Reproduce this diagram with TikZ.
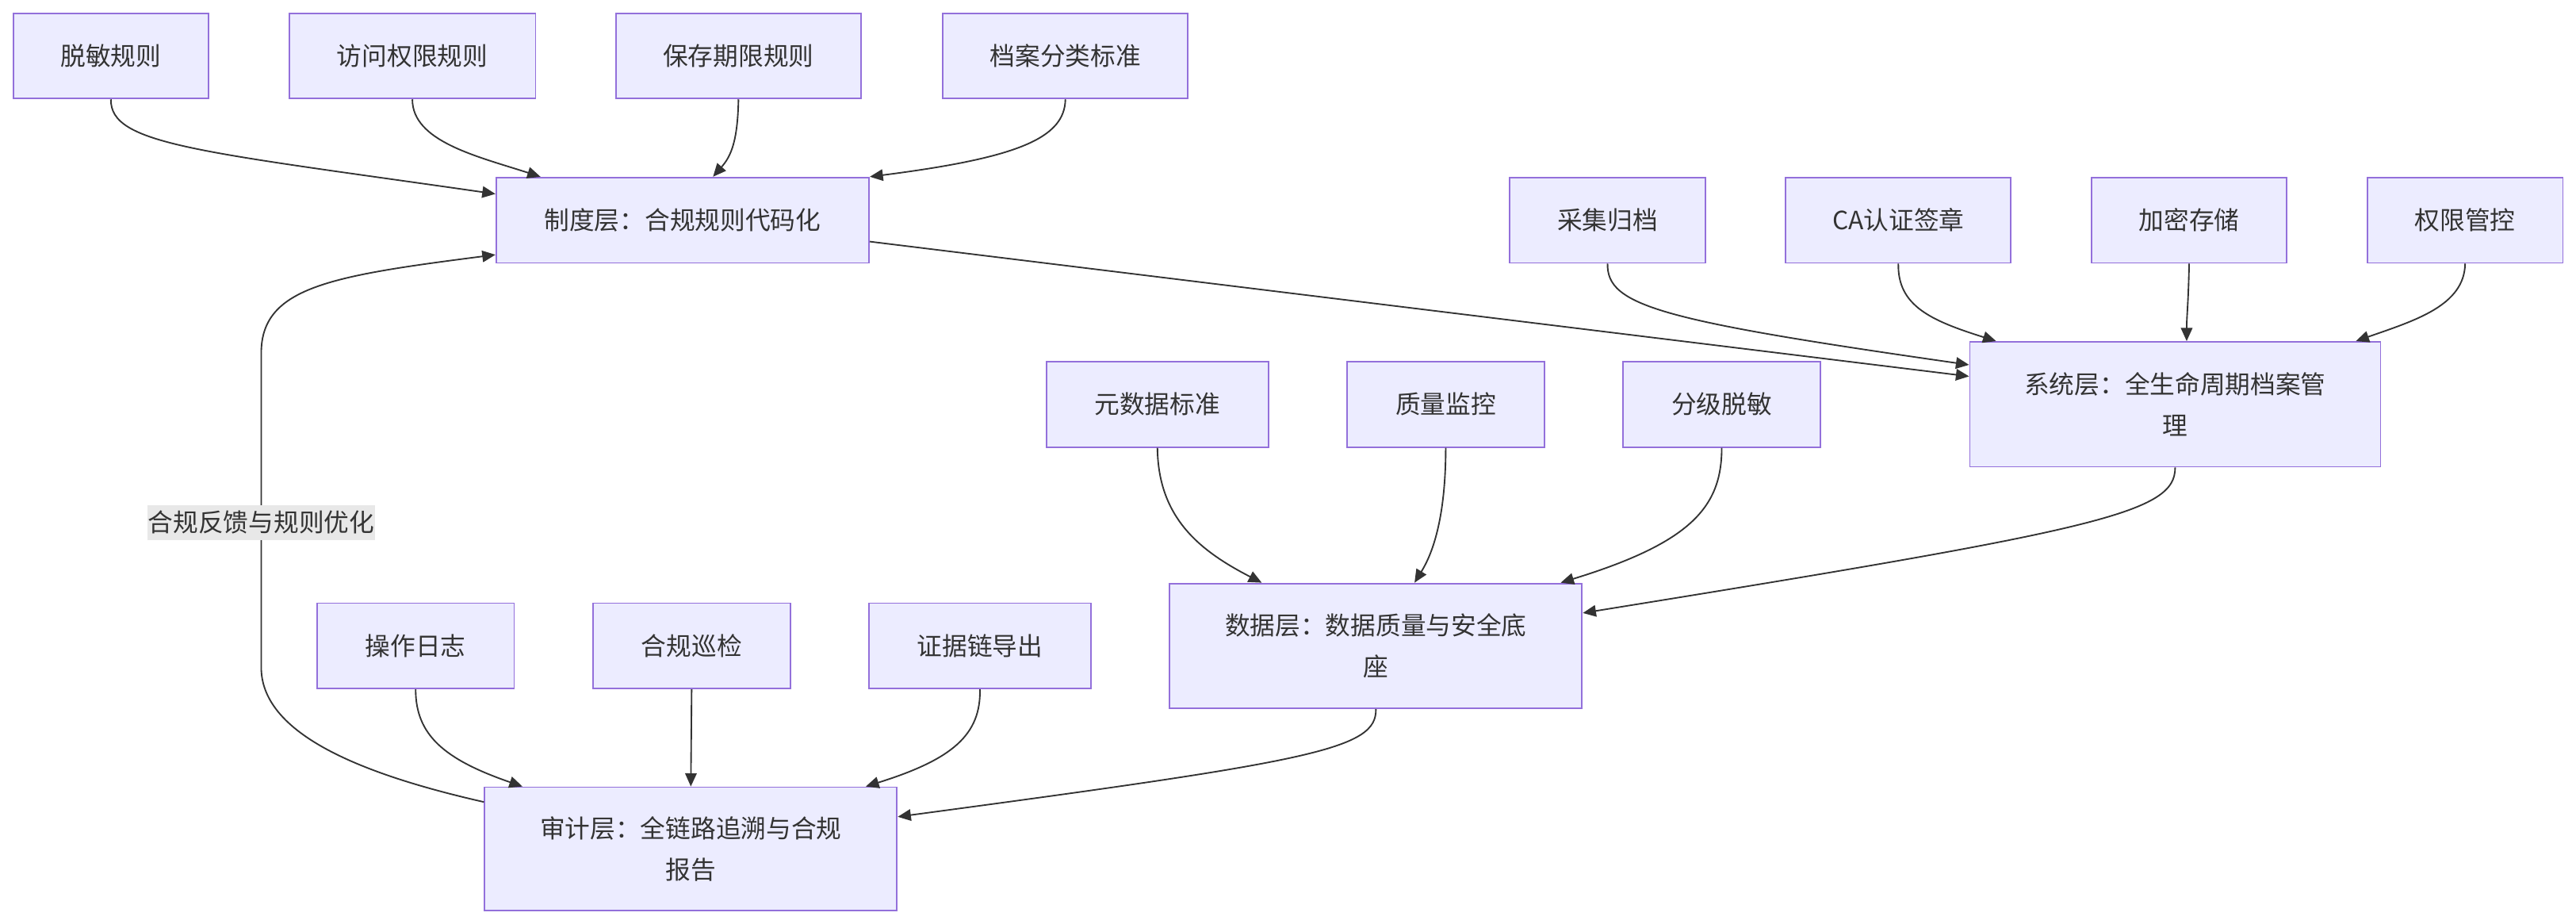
\documentclass[tikz,border=0pt]{standalone}
\usepackage{fontspec}
\setmainfont{Noto Sans CJK SC}
\usetikzlibrary{arrows.meta,calc}
\definecolor{nodefill}{HTML}{ECECFF}
\definecolor{nodedraw}{HTML}{9370DB}
\definecolor{txt}{HTML}{333333}
\definecolor{lblbg}{HTML}{E8E8E8}
\begin{document}
\begin{tikzpicture}[x=1pt,y=-1pt,
  box/.style={draw=nodedraw,fill=nodefill,line width=0.9pt,text=txt,
    font=\fontsize{15.3}{25}\selectfont,align=center,inner sep=0pt,minimum height=52pt},
  bigbox/.style={box,minimum height=76pt},
  edge/.style={draw=txt,line width=0.9pt,-{Triangle[length=8pt,width=7pt]}},
  elabel/.style={fill=lblbg,text=txt,font=\fontsize{15.3}{18}\selectfont,inner xsep=0.5pt,inner ysep=0pt,minimum height=21pt}
]
\useasboundingbox (0,0) rectangle (1568,562);
% top row
\node[box,minimum width=119pt] (r1) at (67.5,34) {脱敏规则};
\node[box,minimum width=150pt] (r2) at (251,34) {访问权限规则};
\node[box,minimum width=149pt] (r3) at (449.5,34) {保存期限规则};
\node[box,minimum width=149pt] (r4) at (648.5,34) {档案分类标准};
\node[box,minimum width=227pt] (L1) at (415.5,134) {制度层：合规规则代码化};
% system
\node[box,minimum width=119pt] (s1) at (978.5,134) {采集归档};
\node[box,minimum width=137pt] (s2) at (1155.5,134) {CA认证签章};
\node[box,minimum width=119pt] (s3) at (1332.5,134) {加密存储};
\node[box,minimum width=119pt] (s4) at (1500.5,134) {权限管控};
\node[bigbox,minimum width=250pt] (L2) at (1324,246) {系统层：全生命周期档案管\\理};
% data
\node[box,minimum width=135pt] (d1) at (704.5,246) {元数据标准};
\node[box,minimum width=120pt] (d2) at (880,246) {质量监控};
\node[box,minimum width=120pt] (d3) at (1048,246) {分级脱敏};
\node[bigbox,minimum width=251pt] (L3) at (837.5,393) {数据层：数据质量与安全底\\座};
% audit
\node[box,minimum width=120pt] (a1) at (253,393) {操作日志};
\node[box,minimum width=120pt] (a2) at (421,393) {合规巡检};
\node[box,minimum width=135pt] (a3) at (596.5,393) {证据链导出};
\node[bigbox,minimum width=251pt,minimum height=75pt] (L4) at (420.5,516.5) {审计层：全链路追溯与合规\\报告};

% edges to L1
\draw[edge] (r1.south) .. controls (67,88) and (120,92) .. ([yshift=16pt]L1.west);
\draw[edge] (r2.south) .. controls (251,86) and (290,95) .. ([xshift=-86.5pt]L1.north);
\draw[edge] (r3.south) .. controls (449,86) and (445,95) .. ([xshift=18.5pt]L1.north);
\draw[edge] (r4.south) .. controls (648,84) and (620,96) .. (L1.north east);
% L1 -> L2
\draw[edge] ([yshift=-13pt]L1.east) -- ([yshift=17pt]L2.west);
\draw[edge] (s1.south) .. controls (978,186) and (1010,195) .. ([yshift=24pt]L2.west);
\draw[edge] (s2.south) .. controls (1155,186) and (1175,195) .. ([xshift=-109pt]L2.north);
\draw[edge] (s3.south) .. controls (1332,186) and (1331,192) .. ([xshift=7pt]L2.north);
\draw[edge] (s4.south) .. controls (1500,186) and (1470,195) .. ([xshift=110pt]L2.north);
% L2 -> L3
\draw[edge] (L2.south) .. controls (1324,312) and (1280,322) .. ([yshift=20pt]L3.east);
\draw[edge] (d1.south) .. controls (705,315) and (730,335) .. ([xshift=-69.5pt]L3.north);
\draw[edge] (d2.south) .. controls (880,320) and (870,340) .. ([xshift=23.5pt]L3.north);
\draw[edge] (d3.south) .. controls (1048,308) and (1030,330) .. ([xshift=112.5pt]L3.north);
% L3 -> L4
\draw[edge] (L3.south) .. controls (838,456) and (800,463) .. ([yshift=19.5pt]L4.east);
\draw[edge] (a1.south) .. controls (253,447) and (270,462) .. ([xshift=-102.5pt]L4.north);
\draw[edge] (a2.south) -- (L4.north);
\draw[edge] (a3.south) .. controls (597,447) and (580,462) .. ([xshift=106.5pt]L4.north);
% feedback
\coordinate (fbA) at (159,406);
\coordinate (fbB) at (159,215);
\draw[edge] ([yshift=28.5pt]L4.west) .. controls (215,470) and (159,445) .. (fbA) -- (fbB)
  .. controls (159,175) and (200,168) .. ([yshift=-21pt]L1.west);
\node[elabel] (fbl) at (159,318) {合规反馈与规则优化};
\end{tikzpicture}
\end{document}
